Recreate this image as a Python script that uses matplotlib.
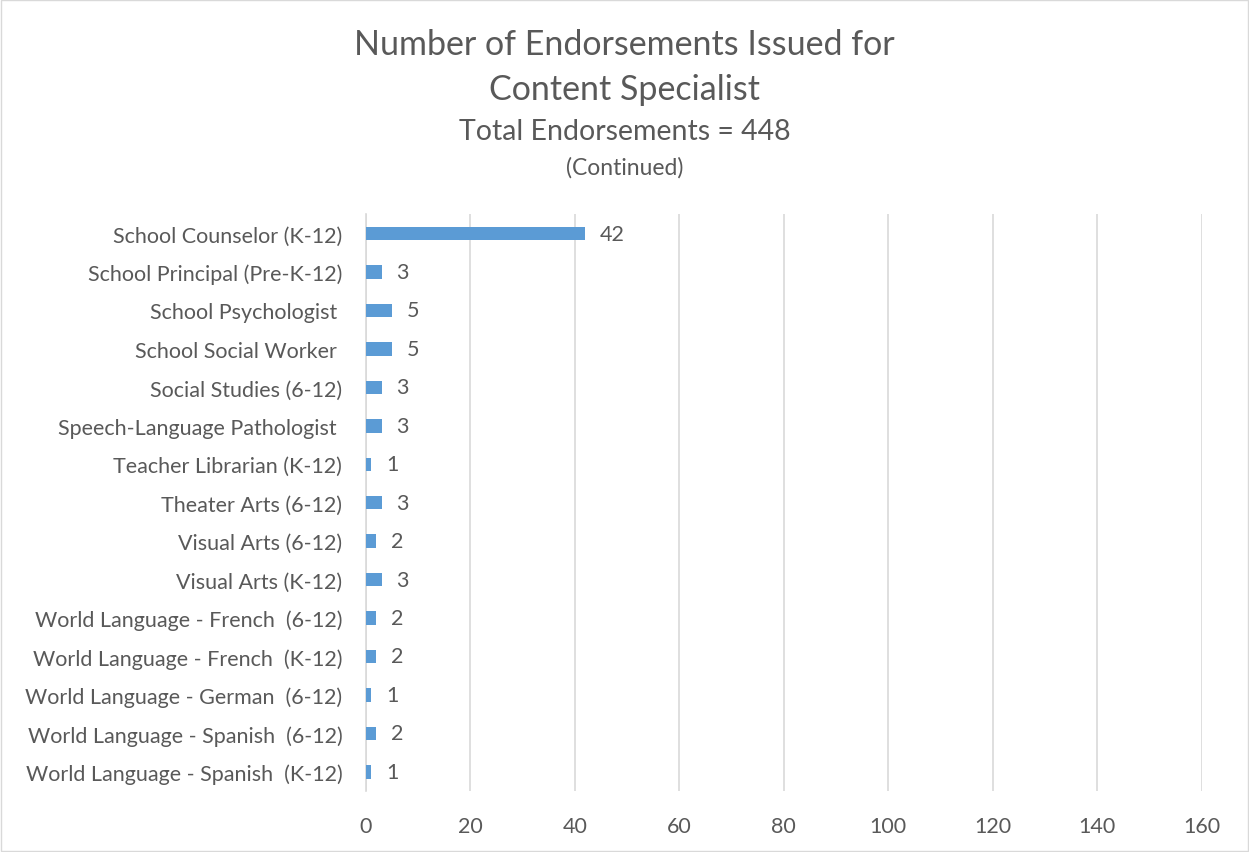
import matplotlib
matplotlib.use("Agg")
import matplotlib.pyplot as plt
from matplotlib.patches import Rectangle

categories = [
    "School Counselor (K-12)",
    "School Principal (Pre-K-12)",
    "School Psychologist ",
    "School Social Worker ",
    "Social Studies (6-12)",
    "Speech-Language Pathologist ",
    "Teacher Librarian (K-12)",
    "Theater Arts (6-12)",
    "Visual Arts (6-12)",
    "Visual Arts (K-12)",
    "World Language - French  (6-12)",
    "World Language - French  (K-12)",
    "World Language - German  (6-12)",
    "World Language - Spanish  (6-12)",
    "World Language - Spanish  (K-12)",
]
values = [42, 3, 5, 5, 3, 3, 1, 3, 2, 3, 2, 2, 1, 2, 1]
xticks = [0, 20, 40, 60, 80, 100, 120, 140, 160]

TEXT = "#595959"
BAR = "#5B9BD5"
plt.rcParams["font.family"] = ["Lato", "DejaVu Sans"]

fig = plt.figure(figsize=(12.49, 8.53), dpi=100)
ax = fig.add_axes([0.293, 0.0715, 0.669, 0.676])

y = list(range(len(categories)))
ax.barh(y, values, height=0.35, color=BAR, zorder=3)
for yi, v in zip(y, values):
    ax.text(v + 2.8, yi, str(v), va="center", ha="left", fontsize=15.5, color=TEXT)

ax.set_xlim(0, 160)
ax.set_ylim(len(categories) - 0.5, -0.5)
ax.set_xticks(xticks)
ax.set_yticks(y)
ax.set_yticklabels(categories)
ax.tick_params(axis="both", length=0, labelsize=15.5, labelcolor=TEXT)
ax.tick_params(axis="y", pad=17)
ax.tick_params(axis="x", pad=18)
ax.grid(axis="x", color="#d9d9d9", linewidth=1.2, zorder=0)
for s in ["top", "right", "bottom"]:
    ax.spines[s].set_visible(False)
ax.spines["left"].set_color("#d9d9d9")
ax.spines["left"].set_linewidth(1.2)

fig.text(0.5, 0.947, "Number of Endorsements Issued for", ha="center", va="center",
         fontsize=24.5, color=TEXT)
fig.text(0.5, 0.895, "Content Specialist", ha="center", va="center",
         fontsize=24.5, color=TEXT)
fig.text(0.5, 0.845, "Total Endorsements = 448", ha="center", va="center",
         fontsize=20.5, color=TEXT)
fig.text(0.5, 0.803, "(Continued)", ha="center", va="center",
         fontsize=16.5, color=TEXT)

fig.patches.append(Rectangle((0.001, 0.001), 0.998, 0.998, transform=fig.transFigure,
                             fill=False, edgecolor="#d9d9d9", linewidth=1))

fig.savefig("out.png", dpi=100)
